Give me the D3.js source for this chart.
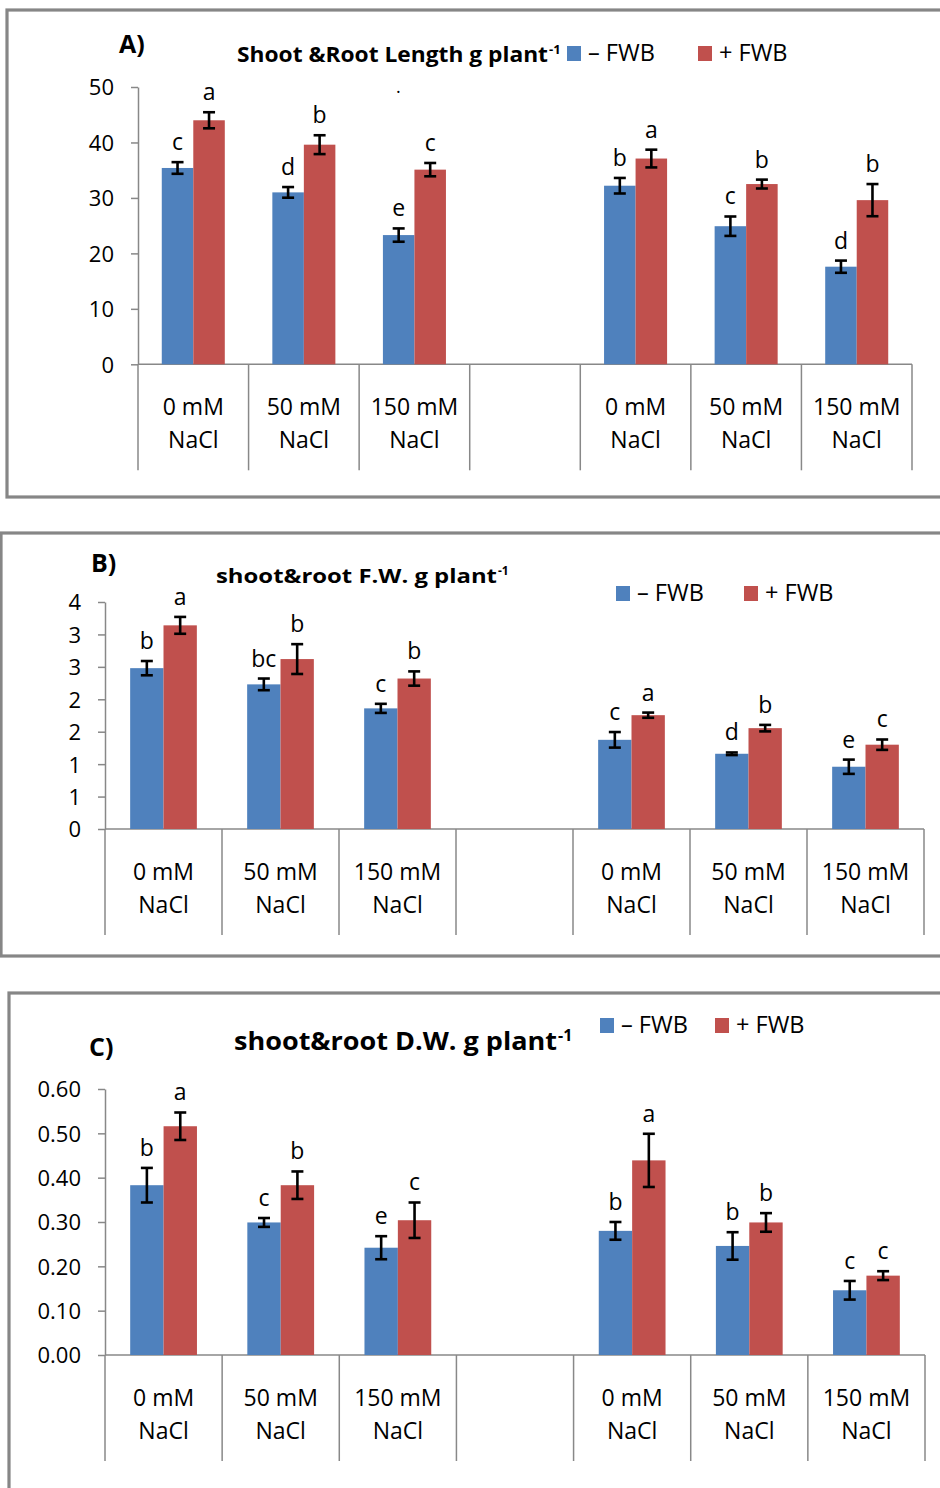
<!DOCTYPE html>
<html>
<head>
<meta charset="utf-8">
<script src="https://cdn.jsdelivr.net/npm/d3@7"></script>
<style>
  body { margin: 0; background: #fff; }
  svg text { font-family: "Open Sans", sans-serif; fill: #000; }
</style>
</head>
<body>
<svg id="chart" width="940" height="1488"></svg>
<script>
// categories (the 4th slot is the empty gap between the two groups)
const slots = ["s1", "s2", "s3", "gap", "s4", "s5", "s6"];
const slotLabels = [["0 mM", "NaCl"], ["50 mM", "NaCl"], ["150 mM", "NaCl"], [],
                    ["0 mM", "NaCl"], ["50 mM", "NaCl"], ["150 mM", "NaCl"]];
const seriesNames = ["\u2013 FWB", "+ FWB"];

// A) shoot & root length
const lengthMinus    = [35.4, 31.0, 23.3, null, 32.2, 24.9, 17.6];
const lengthMinusErr = [1.05, 0.96, 1.2, null, 1.4, 1.75, 1.1];
const lengthMinusSig = ["c", "d", "e", null, "b", "c", "d"];
const lengthPlus     = [44.0, 39.6, 35.1, null, 37.1, 32.5, 29.6];
const lengthPlusErr  = [1.45, 1.7, 1.2, null, 1.6, 0.8, 2.9];
const lengthPlusSig  = ["a", "b", "c", null, "a", "b", "b"];
const lengthTicks    = [0, 10, 20, 30, 40, 50];

// B) shoot & root fresh weight
const fwMinus    = [2.48, 2.23, 1.86, null, 1.375, 1.16, 0.96];
const fwMinusErr = [0.11, 0.09, 0.07, null, 0.12, 0.02, 0.11];
const fwMinusSig = ["b", "bc", "c", null, "c", "d", "e"];
const fwPlus     = [3.14, 2.62, 2.32, null, 1.755, 1.555, 1.30];
const fwPlusErr  = [0.13, 0.23, 0.11, null, 0.04, 0.05, 0.08];
const fwPlusSig  = ["a", "b", "b", null, "a", "b", "c"];
const fwTicks    = [0, 0.5, 1, 1.5, 2, 2.5, 3, 3.5];

// C) shoot & root dry weight
const dwMinus    = [0.383, 0.299, 0.242, null, 0.280, 0.246, 0.146];
const dwMinusErr = [0.039, 0.010, 0.026, null, 0.020, 0.031, 0.021];
const dwMinusSig = ["b", "c", "e", null, "b", "b", "c"];
const dwPlus     = [0.516, 0.383, 0.304, null, 0.439, 0.299, 0.179];
const dwPlusErr  = [0.031, 0.031, 0.040, null, 0.060, 0.021, 0.010];
const dwPlusSig  = ["a", "b", "c", null, "a", "b", "c"];
const dwTicks    = [0, 0.1, 0.2, 0.3, 0.4, 0.5, 0.6];

const colors = ["#4F81BD", "#C0504D"];
const svg = d3.select("#chart");

function drawPanel(p) {
    const g = svg.append("g");

    // outer frame
    g.append("rect")
        .attr("x", p.frame[0]).attr("y", p.frame[1])
        .attr("width", p.frame[2]).attr("height", p.frame[3])
        .attr("fill", "none").attr("stroke", "#868686").attr("stroke-width", 3.2);

    const x = d3.scaleBand().domain(slots).range([p.x0, p.x1]).padding(0);
    const bw = x.bandwidth();
    const xs = d3.scaleBand().domain([0, 1]).range([bw * 0.215, bw * 0.785]).padding(0);
    const y = d3.scaleLinear().domain(p.domain).range([p.yBase, p.yTop]);

    // y axis
    const yAxis = d3.axisLeft(y).tickValues(p.ticks).tickFormat(p.fmt)
        .tickSize(7).tickPadding(17).tickSizeOuter(0);
    const ya = g.append("g").attr("transform", "translate(" + p.x0 + ",0)").call(yAxis);
    ya.select(".domain").attr("stroke", "#888").attr("stroke-width", 1.5);
    ya.selectAll(".tick line").attr("stroke", "#888").attr("stroke-width", 1.5);
    ya.selectAll(".tick text").style("font-size", "22px").attr("fill", "#000")
        .attr("dy", "0.36em");

    // x axis line + category separators
    g.append("line")
        .attr("x1", p.x0).attr("x2", p.x1)
        .attr("y1", p.yBase).attr("y2", p.yBase)
        .attr("stroke", "#888").attr("stroke-width", 1.5);
    const edges = slots.map(s => x(s)).concat([p.x1]);
    g.selectAll(".sep").data(edges).enter().append("line")
        .attr("x1", d => d).attr("x2", d => d)
        .attr("y1", p.yBase).attr("y2", p.yBase + 106)
        .attr("stroke", "#888").attr("stroke-width", 1.5);

    // category labels
    slots.forEach(function (s, i) {
        slotLabels[i].forEach(function (line, j) {
            g.append("text")
                .attr("x", x(s) + bw / 2)
                .attr("y", p.yBase + 51 + j * 33)
                .attr("text-anchor", "middle")
                .style("font-size", "23px")
                .text(line);
        });
    });

    // bars, error bars and letters
    p.series.forEach(function (ser, k) {
        const rows = slots.map((s, i) => ({ slot: s, v: ser.values[i], e: ser.err[i], sig: ser.sig[i] }))
            .filter(d => d.v != null);
        const gx = d => x(d.slot) + xs(k);

        g.selectAll(".bar" + k).data(rows).enter().append("rect")
            .attr("x", gx)
            .attr("y", d => y(d.v))
            .attr("width", xs.bandwidth())
            .attr("height", d => p.yBase - y(d.v))
            .attr("fill", colors[k]);

        const cx = d => gx(d) + xs.bandwidth() / 2;
        const eb = g.selectAll(".err" + k).data(rows).enter().append("g")
            .attr("stroke", "#000").attr("stroke-width", 2.6);
        eb.append("line")
            .attr("x1", cx).attr("x2", cx)
            .attr("y1", d => y(d.v + d.e)).attr("y2", d => y(d.v - d.e));
        eb.append("line")
            .attr("x1", d => cx(d) - 6).attr("x2", d => cx(d) + 6)
            .attr("y1", d => y(d.v + d.e)).attr("y2", d => y(d.v + d.e));
        eb.append("line")
            .attr("x1", d => cx(d) - 6).attr("x2", d => cx(d) + 6)
            .attr("y1", d => y(d.v - d.e)).attr("y2", d => y(d.v - d.e));

        g.selectAll(".sig" + k).data(rows).enter().append("text")
            .attr("x", cx)
            .attr("y", d => y(d.v + d.e) - 12)
            .attr("text-anchor", "middle")
            .style("font-size", "23px")
            .text(d => d.sig);
    });

    // panel letter
    g.append("text")
        .attr("x", p.tag[0]).attr("y", p.tag[1])
        .style("font-size", "25px").style("font-weight", "bold")
        .text(p.tagText);

    // title with superscript
    g.append("text")
        .attr("x", p.title[0]).attr("y", p.title[1])
        .attr("textLength", p.title[2]).attr("lengthAdjust", "spacingAndGlyphs")
        .style("font-size", p.title[3] + "px").style("font-weight", "bold")
        .text(p.titleText);
    g.append("text")
        .attr("x", p.title[0] + p.title[2] + 1).attr("y", p.title[1] - p.title[3] * 0.38)
        .style("font-size", Math.round(p.title[3] * 0.62) + "px").style("font-weight", "bold")
        .text("-1");

    // legend
    seriesNames.forEach(function (name, k) {
        const lx = p.legend[0] + k * p.legend[2];
        g.append("rect")
            .attr("x", lx).attr("y", p.legend[1] - 15)
            .attr("width", 14).attr("height", 15)
            .attr("fill", colors[k]);
        g.append("text")
            .attr("x", lx + 21).attr("y", p.legend[1])
            .style("font-size", "23.5px")
            .text(name);
    });
}

drawPanel({
    frame: [7, 10, 960, 487],
    x0: 138, x1: 912, yBase: 364.3, yTop: 87,
    domain: [0, 50], ticks: lengthTicks, fmt: d3.format("d"),
    series: [
        { values: lengthMinus, err: lengthMinusErr, sig: lengthMinusSig },
        { values: lengthPlus, err: lengthPlusErr, sig: lengthPlusSig }
    ],
    tag: [119, 53], tagText: "A)",
    title: [237, 62, 311, 21], titleText: "Shoot &Root Length g plant",
    legend: [567, 61, 131]
});
// stray dot in the original figure
svg.append("text").attr("x", 396).attr("y", 93).style("font-size", "18px").text(".");

drawPanel({
    frame: [1, 533, 960, 423],
    x0: 105, x1: 924, yBase: 829, yTop: 602,
    domain: [0, 3.5], ticks: fwTicks, fmt: d => Math.round(d),
    series: [
        { values: fwMinus, err: fwMinusErr, sig: fwMinusSig },
        { values: fwPlus, err: fwPlusErr, sig: fwPlusSig }
    ],
    tag: [91, 572], tagText: "B)",
    title: [216, 583, 281, 20], titleText: "shoot&root F.W. g plant",
    legend: [616, 601, 128]
});

drawPanel({
    frame: [9, 993, 960, 600],
    x0: 105, x1: 925, yBase: 1355, yTop: 1089,
    domain: [0, 0.6], ticks: dwTicks, fmt: d3.format(".2f"),
    series: [
        { values: dwMinus, err: dwMinusErr, sig: dwMinusSig },
        { values: dwPlus, err: dwPlusErr, sig: dwPlusSig }
    ],
    tag: [89, 1056], tagText: "C)",
    title: [234, 1050, 323, 25], titleText: "shoot&root D.W. g plant",
    legend: [600, 1033, 115]
});
</script>
</body>
</html>
